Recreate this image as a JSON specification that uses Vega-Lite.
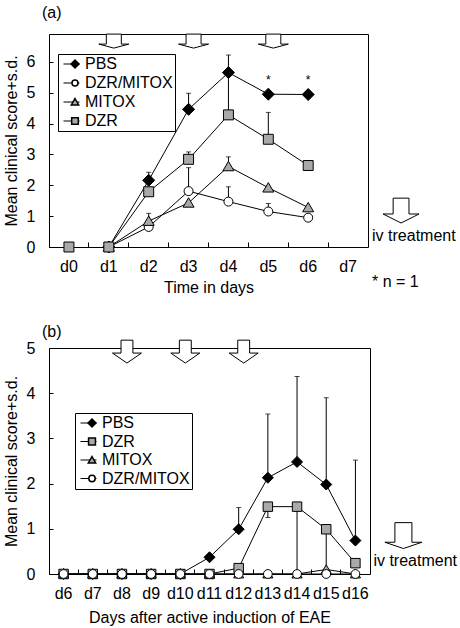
{
  "$schema": "https://vega.github.io/schema/vega-lite/v6.json",
  "padding": {"left": 2, "top": 4, "right": 0, "bottom": 0},
  "spacing": 27,
  "datasets": {
    "a": [
      {"day": "d1", "series": "PBS", "value": 0, "err": null},
      {"day": "d2", "series": "PBS", "value": 2.16, "err": 2.42},
      {"day": "d3", "series": "PBS", "value": 4.46, "err": 4.98},
      {"day": "d4", "series": "PBS", "value": 5.65, "err": 6.22},
      {"day": "d5", "series": "PBS", "value": 4.95, "err": null},
      {"day": "d6", "series": "PBS", "value": 4.94, "err": null},
      {"day": "d1", "series": "DZR/MITOX", "value": 0, "err": null},
      {"day": "d2", "series": "DZR/MITOX", "value": 0.65, "err": null},
      {"day": "d3", "series": "DZR/MITOX", "value": 1.81, "err": 2.57},
      {"day": "d4", "series": "DZR/MITOX", "value": 1.47, "err": 1.95},
      {"day": "d5", "series": "DZR/MITOX", "value": 1.15, "err": 1.41},
      {"day": "d6", "series": "DZR/MITOX", "value": 0.95, "err": null},
      {"day": "d1", "series": "MITOX", "value": 0, "err": null},
      {"day": "d2", "series": "MITOX", "value": 0.84, "err": 1.09},
      {"day": "d3", "series": "MITOX", "value": 1.43, "err": null},
      {"day": "d4", "series": "MITOX", "value": 2.61, "err": 2.92},
      {"day": "d5", "series": "MITOX", "value": 1.92, "err": null},
      {"day": "d6", "series": "MITOX", "value": 1.28, "err": null},
      {"day": "d0", "series": "DZR", "value": 0, "err": null},
      {"day": "d1", "series": "DZR", "value": 0, "err": null},
      {"day": "d2", "series": "DZR", "value": 1.79, "err": null},
      {"day": "d3", "series": "DZR", "value": 2.84, "err": 3.08},
      {"day": "d4", "series": "DZR", "value": 4.28, "err": 5.55},
      {"day": "d5", "series": "DZR", "value": 3.49, "err": 4.36},
      {"day": "d6", "series": "DZR", "value": 2.64, "err": null}
    ],
    "b": [
      {"day": "d6", "series": "PBS", "value": 0, "err": null},
      {"day": "d7", "series": "PBS", "value": 0, "err": null},
      {"day": "d8", "series": "PBS", "value": 0, "err": null},
      {"day": "d9", "series": "PBS", "value": 0, "err": null},
      {"day": "d10", "series": "PBS", "value": 0, "err": null},
      {"day": "d11", "series": "PBS", "value": 0.37, "err": null},
      {"day": "d12", "series": "PBS", "value": 0.99, "err": 1.47},
      {"day": "d13", "series": "PBS", "value": 2.13, "err": 3.54},
      {"day": "d14", "series": "PBS", "value": 2.48, "err": 4.37},
      {"day": "d15", "series": "PBS", "value": 1.98, "err": 3.9},
      {"day": "d16", "series": "PBS", "value": 0.74, "err": 2.52},
      {"day": "d6", "series": "DZR", "value": 0, "err": null},
      {"day": "d7", "series": "DZR", "value": 0, "err": null},
      {"day": "d8", "series": "DZR", "value": 0, "err": null},
      {"day": "d9", "series": "DZR", "value": 0, "err": null},
      {"day": "d10", "series": "DZR", "value": 0, "err": null},
      {"day": "d11", "series": "DZR", "value": 0, "err": null},
      {"day": "d12", "series": "DZR", "value": 0.13, "err": null},
      {"day": "d13", "series": "DZR", "value": 1.49, "err": 1.25},
      {"day": "d14", "series": "DZR", "value": 1.49, "err": 0},
      {"day": "d15", "series": "DZR", "value": 0.99, "err": 0},
      {"day": "d16", "series": "DZR", "value": 0.24, "err": null},
      {"day": "d6", "series": "MITOX", "value": 0, "err": null},
      {"day": "d7", "series": "MITOX", "value": 0, "err": null},
      {"day": "d8", "series": "MITOX", "value": 0, "err": null},
      {"day": "d9", "series": "MITOX", "value": 0, "err": null},
      {"day": "d10", "series": "MITOX", "value": 0, "err": null},
      {"day": "d11", "series": "MITOX", "value": 0, "err": null},
      {"day": "d12", "series": "MITOX", "value": 0, "err": null},
      {"day": "d13", "series": "MITOX", "value": 0, "err": null},
      {"day": "d14", "series": "MITOX", "value": 0, "err": null},
      {"day": "d15", "series": "MITOX", "value": 0.1, "err": null},
      {"day": "d16", "series": "MITOX", "value": 0, "err": null},
      {"day": "d6", "series": "DZR/MITOX", "value": 0, "err": null},
      {"day": "d7", "series": "DZR/MITOX", "value": 0, "err": null},
      {"day": "d8", "series": "DZR/MITOX", "value": 0, "err": null},
      {"day": "d9", "series": "DZR/MITOX", "value": 0, "err": null},
      {"day": "d10", "series": "DZR/MITOX", "value": 0, "err": null},
      {"day": "d11", "series": "DZR/MITOX", "value": 0, "err": null},
      {"day": "d12", "series": "DZR/MITOX", "value": 0, "err": null},
      {"day": "d13", "series": "DZR/MITOX", "value": 0, "err": null},
      {"day": "d14", "series": "DZR/MITOX", "value": 0, "err": null},
      {"day": "d15", "series": "DZR/MITOX", "value": 0, "err": null},
      {"day": "d16", "series": "DZR/MITOX", "value": 0, "err": null}
    ]
  },
  "vconcat": [
    {
      "width": 319,
      "height": 213,
      "title": {"text": "(a)", "anchor": "start", "frame": "group", "dx": -7, "offset": -2, "baseline": "alphabetic", "fontSize": 16, "fontWeight": "normal"},
      "encoding": {
        "x": {"field": "day", "type": "nominal", "sort": null,
          "scale": {"domain": ["d0", "d1", "d2", "d3", "d4", "d5", "d6", "d7"], "paddingInner": 0, "paddingOuter": 0},
          "axis": {"title": "Time in days", "bandPosition": 0, "tickSize": -5, "labelAngle": 0, "labelPadding": 16, "titlePadding": 5}},
        "y": {"field": "value", "type": "quantitative",
          "scale": {"domain": [0, 6.9], "nice": false},
          "axis": {"title": "Mean clinical score+s.d.", "values": [0, 1, 2, 3, 4, 5, 6], "tickSize": -4, "labelPadding": 18, "titlePadding": 7}}
      },
      "layer": [
        {
          "data": {"name": "a"},
          "transform": [{"filter": "datum.err != null"}],
          "mark": {"type": "rule", "color": "black", "strokeWidth": 1},
          "encoding": {"y2": {"field": "err"}}
        },
        {
          "data": {"name": "a"},
          "transform": [{"filter": "datum.err != null"}],
          "mark": {"type": "tick", "color": "black", "thickness": 1, "size": 5, "orient": "horizontal"},
          "encoding": {"y": {"field": "err", "type": "quantitative"}}
        },
        {
          "data": {"name": "a"},
          "transform": [{"filter": "datum.day != 'd0'"}],
          "mark": {"type": "line", "strokeWidth": 1},
          "encoding": {
            "stroke": {"field": "series",
              "scale": {"domain": ["PBS", "DZR/MITOX", "MITOX", "DZR", "_"], "range": ["black", "black", "black", "black", "black"]},
              "legend": {"title": null, "orient": "none", "legendX": 9, "legendY": 20, "values": ["PBS", "DZR/MITOX", "MITOX", "DZR"], "strokeColor": "black", "padding": 2, "symbolOffset": 3, "symbolSize": 256, "symbolStrokeWidth": 1, "clipHeight": 16, "labelFontSize": 16, "labelColor": "black", "labelOffset": 5, "rowPadding": 3, "labelLimit": 0}}
          }
        },
        {
          "data": {"name": "a"},
          "mark": {"type": "point", "filled": true, "stroke": "black", "strokeWidth": 1, "size": 144, "opacity": 1},
          "encoding": {
            "shape": {"field": "series",
              "scale": {"domain": ["PBS", "DZR/MITOX", "MITOX", "DZR"],
                "range": ["M-1,0L0,-1L1,0L0,1Z", "M-0.75,0A0.75,0.75 0 1 0 0.75,0A0.75,0.75 0 1 0 -0.75,0Z", "M0,-0.85L0.92,0.72L-0.92,0.72Z", "M-0.83,-0.83H0.83V0.83H-0.83Z"]},
              "legend": {"title": null, "orient": "none", "legendX": 9, "legendY": 20, "padding": 2, "symbolOffset": 7, "symbolSize": 64, "clipHeight": 16, "labelFontSize": 16, "labelExpr": "''", "labelOffset": 13, "rowPadding": 3, "labelLimit": 0}},
            "fill": {"field": "series", "legend": null,
              "scale": {"domain": ["PBS", "DZR/MITOX", "MITOX", "DZR"], "range": ["black", "white", "#a9a9a9", "#a9a9a9"]}}
          }
        },
        {
          "data": {"values": [{"day": "d1", "yv": 6.67}, {"day": "d3", "yv": 6.67}, {"day": "d5", "yv": 6.67}]},
          "mark": {"type": "point", "filled": true, "fill": "white", "stroke": "black", "strokeWidth": 1, "opacity": 1, "size": 900, "xOffset": 5,
            "shape": "M-0.5,-0.467H0.5V0.2H1L0,0.467L-1,0.2H-0.5Z"},
          "encoding": {"y": {"field": "yv", "type": "quantitative"}}
        },
        {
          "data": {"values": [{"day": "d7", "yv": 1.18}]},
          "mark": {"type": "point", "filled": true, "fill": "white", "stroke": "black", "strokeWidth": 1, "opacity": 1, "size": 1296, "xOffset": 53,
            "shape": "M-0.44,-0.69H0.44V0.19H1L0,0.69L-1,0.19H-0.44Z"},
          "encoding": {"y": {"field": "yv", "type": "quantitative"}}
        },
        {
          "data": {"values": [{"day": "d7", "label": "iv treatment", "yv": 0.36}, {"day": "d7", "label": "* n = 1", "yv": -1.13}]},
          "mark": {"type": "text", "align": "left", "baseline": "middle", "fontSize": 16, "color": "black", "dx": 24},
          "encoding": {"y": {"field": "yv", "type": "quantitative"}, "text": {"field": "label"}}
        },
        {
          "data": {"values": [{"day": "d5", "label": "*", "yv": 5.42}, {"day": "d6", "label": "*", "yv": 5.42}]},
          "mark": {"type": "text", "align": "center", "baseline": "middle", "fontSize": 12, "color": "black"},
          "encoding": {"y": {"field": "yv", "type": "quantitative"}, "text": {"field": "label"}}
        }
      ]
    },
    {
      "width": 321,
      "height": 226,
      "title": {"text": "(b)", "anchor": "start", "frame": "group", "dx": -7, "offset": -15, "baseline": "alphabetic", "fontSize": 16, "fontWeight": "normal"},
      "encoding": {
        "x": {"field": "day", "type": "nominal", "sort": null,
          "scale": {"domain": ["d6", "d7", "d8", "d9", "d10", "d11", "d12", "d13", "d14", "d15", "d16"], "paddingInner": 0, "paddingOuter": 0},
          "axis": {"title": "Days after active induction of EAE", "bandPosition": 0, "tickSize": -5, "labelAngle": 0, "labelPadding": 16, "titlePadding": 8}},
        "y": {"field": "value", "type": "quantitative",
          "scale": {"domain": [0, 5], "nice": false},
          "axis": {"title": "Mean clinical score+s.d.", "values": [0, 1, 2, 3, 4, 5], "tickSize": -4, "labelPadding": 18, "titlePadding": 7}}
      },
      "layer": [
        {
          "data": {"name": "b"},
          "transform": [{"filter": "datum.err != null"}],
          "mark": {"type": "rule", "color": "black", "strokeWidth": 1},
          "encoding": {"y2": {"field": "err"}}
        },
        {
          "data": {"name": "b"},
          "transform": [{"filter": "datum.err != null"}],
          "mark": {"type": "tick", "color": "black", "thickness": 1, "size": 5, "orient": "horizontal"},
          "encoding": {"y": {"field": "err", "type": "quantitative"}}
        },
        {
          "data": {"name": "b"},
          "mark": {"type": "line", "strokeWidth": 1},
          "encoding": {
            "stroke": {"field": "series",
              "scale": {"domain": ["PBS", "DZR", "MITOX", "DZR/MITOX", "_"], "range": ["black", "black", "black", "black", "black"]},
              "legend": {"title": null, "orient": "none", "legendX": 26, "legendY": 65, "values": ["PBS", "DZR", "MITOX", "DZR/MITOX"], "strokeColor": "black", "padding": 2, "symbolOffset": 3, "symbolSize": 256, "symbolStrokeWidth": 1, "clipHeight": 16, "labelFontSize": 16, "labelColor": "black", "labelOffset": 5, "rowPadding": 2.5, "labelLimit": 0}}
          }
        },
        {
          "data": {"name": "b"},
          "mark": {"type": "point", "filled": true, "stroke": "black", "strokeWidth": 1, "size": 121, "opacity": 1},
          "encoding": {
            "shape": {"field": "series",
              "scale": {"domain": ["PBS", "DZR", "MITOX", "DZR/MITOX"],
                "range": ["M-1,0L0,-1L1,0L0,1Z", "M-0.86,-0.86H0.86V0.86H-0.86Z", "M0,-0.85L0.92,0.72L-0.92,0.72Z", "M-0.8,0A0.8,0.8 0 1 0 0.8,0A0.8,0.8 0 1 0 -0.8,0Z"]},
              "legend": {"title": null, "orient": "none", "legendX": 26, "legendY": 65, "padding": 2, "symbolOffset": 7, "symbolSize": 64, "clipHeight": 16, "labelFontSize": 16, "labelExpr": "''", "labelOffset": 13, "rowPadding": 2.5, "labelLimit": 0}},
            "fill": {"field": "series", "legend": null,
              "scale": {"domain": ["PBS", "DZR", "MITOX", "DZR/MITOX"], "range": ["black", "#a9a9a9", "#a9a9a9", "white"]}}
          }
        },
        {
          "data": {"values": [{"day": "d8", "yv": 4.92}, {"day": "d10", "yv": 4.92}, {"day": "d12", "yv": 4.92}]},
          "mark": {"type": "point", "filled": true, "fill": "white", "stroke": "black", "strokeWidth": 1, "opacity": 1, "size": 841, "xOffset": 5,
            "shape": "M-0.41,-0.79H0.41V0.1H1L0,0.79L-1,0.1H-0.41Z"},
          "encoding": {"y": {"field": "yv", "type": "quantitative"}}
        },
        {
          "data": {"values": [{"day": "d16", "yv": 0.85}]},
          "mark": {"type": "point", "filled": true, "fill": "white", "stroke": "black", "strokeWidth": 1, "opacity": 1, "size": 1369, "xOffset": 48,
            "shape": "M-0.46,-0.7H0.46V0.36H1L0,0.7L-1,0.36H-0.46Z"},
          "encoding": {"y": {"field": "yv", "type": "quantitative"}}
        },
        {
          "data": {"values": [{"day": "d16", "label": "iv treatment", "yv": 0.29}]},
          "mark": {"type": "text", "align": "left", "baseline": "middle", "fontSize": 16, "color": "black", "dx": 18},
          "encoding": {"y": {"field": "yv", "type": "quantitative"}, "text": {"field": "label"}}
        }
      ]
    }
  ],
  "resolve": {"scale": {"x": "independent", "y": "independent", "shape": "independent", "fill": "independent", "stroke": "independent"}, "legend": {"shape": "independent", "fill": "independent", "stroke": "independent"}},
  "config": {
    "font": "Liberation Sans",
    "view": {"stroke": "black", "strokeWidth": 1},
    "axis": {"domain": false, "grid": false, "labelFontSize": 16, "titleFontSize": 16, "titleFontWeight": "normal", "labelColor": "black", "titleColor": "black", "tickColor": "black", "tickWidth": 1, "labelFont": "Liberation Sans", "titleFont": "Liberation Sans"},
    "legend": {"labelFont": "Liberation Sans"},
    "title": {"color": "black", "font": "Liberation Sans"}
  }
}
